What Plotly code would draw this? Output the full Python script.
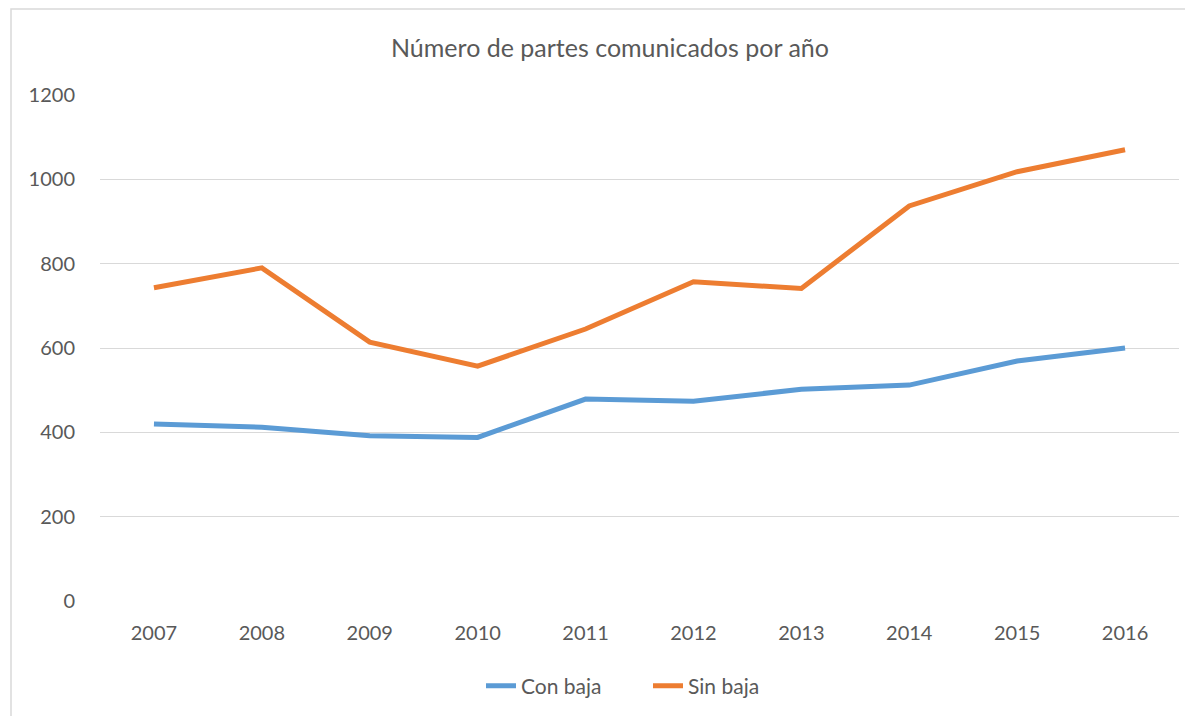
import plotly.graph_objects as go

years = ["2007", "2008", "2009", "2010", "2011", "2012", "2013", "2014", "2015", "2016"]
con_baja = [420, 412, 392, 388, 479, 474, 502, 512, 569, 600]
sin_baja = [743, 790, 614, 557, 645, 757, 741, 937, 1018, 1070]
y_ticks = [0, 200, 400, 600, 800, 1000, 1200]

# page body has an 8px margin, so the figure is drawn 8px in from the window edge
W, H = 1185, 708
ml, mr, mt, mb = 92, 14, 87, 115
pw, ph = W - ml - mr, H - mt - mb

font = "Lato, Carlito, Calibri, sans-serif"
fig = go.Figure()
fig.add_trace(go.Scatter(x=years, y=con_baja, mode="lines", name="Con baja",
                         line=dict(color="#5B9BD5", width=5)))
fig.add_trace(go.Scatter(x=years, y=sin_baja, mode="lines", name="Sin baja",
                         line=dict(color="#ED7D31", width=5)))

def px_x(p):
    return (p - ml) / pw

def px_y(p):
    return (H - mb - p) / ph

fig.update_layout(
    width=W, height=H,
    margin=dict(l=ml, r=mr, t=mt, b=mb, autoexpand=False),
    paper_bgcolor="white", plot_bgcolor="white",
    font=dict(family=font, size=20, color="#595959"),
    title=dict(text="Número de partes comunicados por año", x=602 / W, xanchor="center",
               xref="container", y=1 - 40 / H, yanchor="middle",
               font=dict(size=25, color="#595959")),
    xaxis=dict(type="category", range=[-0.5, 9.5], showgrid=False, showline=False,
               ticks="outside", ticklen=14, tickcolor="rgba(0,0,0,0)",
               tickfont=dict(size=20, color="#595959")),
    yaxis=dict(range=[0, 1200], tickvals=y_ticks, showgrid=True, gridcolor="#d9d9d9",
               gridwidth=1.3, zeroline=False, showline=False, ticks="outside",
               ticklen=20, tickcolor="rgba(0,0,0,0)",
               tickfont=dict(size=20, color="#595959")),
    legend=dict(orientation="h", x=px_x(640), xanchor="center", y=px_y(678), yanchor="middle",
                font=dict(size=21, color="#595959"), tracegroupgap=0,
                entrywidth=122, entrywidthmode="pixels"),
    shapes=[dict(type="rect", xref="paper", yref="paper",
                 x0=px_x(3), x1=px_x(1200), y0=px_y(730), y1=px_y(1),
                 line=dict(color="#d9d9d9", width=1.5), fillcolor="rgba(0,0,0,0)",
                 layer="below")],
)
fig.write_html("out.html")
